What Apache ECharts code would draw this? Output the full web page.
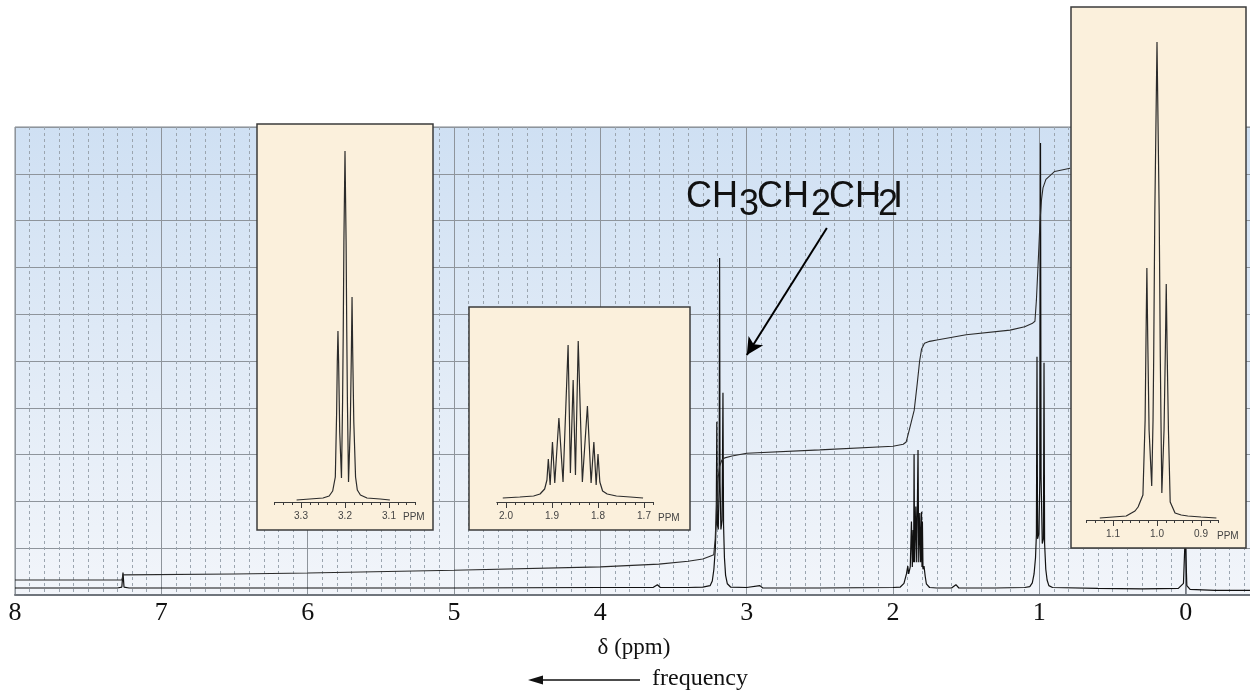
<!DOCTYPE html>
<html><head><meta charset="utf-8">
<script src="https://cdn.jsdelivr.net/npm/echarts@6/dist/echarts.min.js"></script>
<style>html,body{margin:0;padding:0;background:#fff}#c{width:1250px;height:696px}</style>
</head><body><div id="c"></div>
<script>
// ---------- DATA ----------
// main spectrum: [ppm, height in grid divisions]
const spectrumMain = [
[8.00,0.15],[7.30,0.15],[7.27,0.17],[7.262,0.48],[7.255,0.17],[7.22,0.15],
[6.0,0.15],[5.0,0.15],[4.0,0.16],[3.64,0.16],[3.61,0.22],[3.59,0.16],
[3.40,0.16],[3.30,0.17],[3.25,0.2],[3.235,0.3],[3.224,0.55],[3.214,1.0],[3.208,1.6],[3.204,3.70],[3.200,1.5],[3.194,1.4],[3.188,2.4],[3.185,7.2],[3.182,2.4],[3.176,1.4],[3.168,1.6],[3.162,4.32],[3.158,1.5],[3.152,0.8],[3.144,0.42],[3.132,0.24],[3.11,0.17],[3.0,0.16],[2.91,0.2],[2.89,0.15],
[2.5,0.15],[2.0,0.16],[1.95,0.17],[1.925,0.25],[1.908,0.45],[1.899,0.62],[1.893,0.45],[1.882,0.6],[1.874,1.57],[1.868,0.6],[1.863,1.39],[1.859,0.7],[1.856,3.01],[1.852,0.7],[1.844,1.89],[1.838,0.7],[1.829,3.10],[1.824,0.7],[1.817,1.75],[1.811,0.7],[1.805,1.78],[1.802,0.6],[1.799,1.57],[1.795,0.55],[1.788,0.62],[1.78,0.4],[1.772,0.24],[1.75,0.16],[1.70,0.15],
[1.60,0.15],[1.57,0.22],[1.55,0.15],[1.30,0.15],[1.10,0.16],[1.065,0.18],[1.048,0.26],[1.036,0.45],[1.026,0.8],[1.020,1.3],[1.016,5.09],[1.012,1.2],[1.004,1.3],[0.996,2.5],[0.992,9.66],[0.988,2.5],[0.980,1.1],[0.972,1.2],[0.968,4.96],[0.964,1.1],[0.956,0.55],[0.947,0.32],[0.935,0.2],[0.91,0.16],[0.6,0.14],[0.3,0.13],[0.05,0.14],[0.015,0.25],[0.003,1.3],[-0.008,0.2],[-0.03,0.12],[-0.2,0.1],[-0.44,0.1]
];
// integration curve: [ppm, height in grid divisions]
const integral = [
[8.0,0.32],[7.27,0.32],[7.262,0.43],[6.5,0.45],[6.0,0.47],[5.0,0.53],[4.0,0.60],[3.6,0.66],[3.4,0.72],[3.3,0.77],[3.25,0.83],
[3.225,0.86],[3.215,1.2],[3.205,2.0],[3.195,2.5],[3.185,2.75],[3.17,2.88],[3.15,2.93],[3.1,2.97],[3.0,3.03],[2.5,3.1],[2.0,3.18],
[1.93,3.22],[1.91,3.27],[1.895,3.45],[1.875,3.7],[1.855,3.95],[1.835,4.5],[1.818,5.0],[1.805,5.25],[1.785,5.38],[1.75,5.42],[1.7,5.45],[1.5,5.56],[1.2,5.66],[1.1,5.73],
[1.05,5.8],[1.03,5.85],[1.02,6.3],[1.005,7.3],[0.995,8.0],[0.985,8.45],[0.975,8.7],[0.955,8.88],[0.895,9.05],[0.79,9.12]
];
// inset 1: CH2I triplet near 3.2 ppm [ppm, height]
const inset1 = [
[3.31,2],[3.28,3],[3.25,4],[3.236,6],[3.228,11],[3.222,25],[3.219,90],[3.2175,140],[3.216,171],[3.2145,140],[3.212,70],[3.208,24],
[3.2055,100],[3.204,170],[3.2025,260],[3.2,351],[3.1975,260],[3.196,170],[3.1945,100],[3.192,20],
[3.188,75],[3.1855,150],[3.184,205],[3.1825,150],[3.18,80],[3.176,25],[3.172,12],[3.165,7],[3.15,4],[3.12,3],[3.098,2]
];
// inset 2: CH2 multiplet near 1.85 ppm
const inset2 = [
[2.007,4],[1.97,5],[1.94,6],[1.926,8],[1.916,13],[1.911,22],[1.908,43],[1.904,17],[1.899,60],[1.894,19],[1.885,84],[1.876,20],
[1.865,157],[1.86,29],[1.854,122],[1.849,27],[1.843,161],[1.834,20],[1.823,96],[1.815,19],[1.809,60],[1.804,17],[1.800,48],
[1.796,20],[1.79,11],[1.78,8],[1.76,6],[1.73,5],[1.702,4]
];
// inset 3: CH3 triplet near 1.0 ppm
const inset3 = [
[1.13,2],[1.10,3],[1.07,4],[1.05,9],[1.043,13],[1.032,25],[1.027,100],[1.025,180],[1.023,252],[1.021,180],[1.018,90],[1.012,34],
[1.009,100],[1.0075,163],[1.005,306],[1.0,478],[0.995,306],[0.9925,163],[0.991,100],[0.989,27],
[0.984,90],[0.981,170],[0.979,236],[0.977,170],[0.974,90],[0.970,18],[0.959,7],[0.945,5],[0.93,4],[0.9,3],[0.865,2]
];
const mainTickLabels = ['8','7','6','5','4','3','2','1','0'];
const inset1Labels = ['3.3','3.2','3.1'];
const inset2Labels = ['2.0','1.9','1.8','1.7'];
const inset3Labels = ['1.1','1.0','0.9'];
const formula = [['CH',0],['3',1],['CH',0],['2',1],['CH',0],['2',1],['I',0]];

// ---------- CHART ----------
const chart = echarts.init(document.getElementById('c'));
const gridLine = '#8e949b';
function insetAxes(gi, min, max, labels){
  const vals = labels.map(Number);
  return [{
    gridIndex: gi, type:'value', position:'bottom', min:min, max:max, interval:0.02, inverse:true, z:30,
    axisLine:{show:true,onZero:false,lineStyle:{color:'#3a3a3a',width:1}},
    axisTick:{show:true,length:3,lineStyle:{color:'#3a3a3a',width:1}},
    axisLabel:{show:true,margin:9,fontSize:10,color:'#444',fontFamily:'Liberation Sans',
      formatter:function(v){for(let i=0;i<vals.length;i++){if(Math.abs(v-vals[i])<1e-6)return labels[i];}return '';}},
    splitLine:{show:false}
  },{
    gridIndex: gi, type:'value', position:'bottom', min:min, max:max, interval:0.02, inverse:true, z:30,
    axisLine:{show:false,onZero:false},
    axisTick:{show:true,length:6,customValues:vals,lineStyle:{color:'#3a3a3a',width:1}},
    axisLabel:{show:false},
    splitLine:{show:false}
  }];
}
const inAx1 = insetAxes(1, 3.04, 3.36, inset1Labels);
const inAx2 = insetAxes(2, 1.68, 2.02, inset2Labels);
const inAx3 = insetAxes(3, 0.86, 1.16, inset3Labels);

const boxStyle = {fill:'#fbf0dc', stroke:'#3b3b3b', lineWidth:1.5};
const graphics = [
  {type:'rect', z:10, shape:{x:257,y:124,width:176,height:406}, style:boxStyle},
  {type:'rect', z:10, shape:{x:469,y:307,width:221,height:223}, style:boxStyle},
  {type:'rect', z:10, shape:{x:1071,y:7,width:175,height:541}, style:boxStyle},
  {type:'text', z:31, style:{text:'PPM', x:403, y:517, verticalAlign:'middle', fontSize:10, fontFamily:'Liberation Sans', fill:'#444'}},
  {type:'text', z:31, style:{text:'PPM', x:658, y:518, verticalAlign:'middle', fontSize:10, fontFamily:'Liberation Sans', fill:'#444'}},
  {type:'text', z:31, style:{text:'PPM', x:1217, y:536, verticalAlign:'middle', fontSize:10, fontFamily:'Liberation Sans', fill:'#444'}},
  {type:'text', z:31, style:{text:'δ (ppm)', x:634, y:648, align:'center', verticalAlign:'middle', fontSize:23, fontFamily:'Liberation Serif', fill:'#111'}},
  {type:'line', z:31, shape:{x1:640,y1:680,x2:538,y2:680}, style:{stroke:'#111', lineWidth:1.3}},
  {type:'polygon', z:31, shape:{points:[[528,680],[543,675.5],[543,684.5]]}, style:{fill:'#111'}},
  {type:'text', z:31, style:{text:'frequency', x:652, y:679, verticalAlign:'middle', fontSize:24, fontFamily:'Liberation Serif', fill:'#111'}}
];
const fx = [686, 739, 757, 811, 829, 878, 893];
formula.forEach(function(p, i){
  graphics.push({type:'text', z:31, style:{text:p[0], x:fx[i], y:p[1]?205.5:197.5, verticalAlign:'middle', fontSize:36, fontFamily:'Liberation Sans', fill:'#111'}});
});

const option = {
  animation:false,
  backgroundColor:'#ffffff',
  grid:[
    {left:15, top:127, width:1317, height:468, show:true, z:0, outerBoundsMode:'none', containLabel:false,
     backgroundColor:{type:'linear',x:0,y:0,x2:0,y2:1,colorStops:[{offset:0,color:'#cfe0f3'},{offset:1,color:'#f2f5fa'}]},
     borderColor:'#7d848c', borderWidth:1},
    {left:274.6, top:130, width:140.8, height:372, outerBoundsMode:'none'},
    {left:496.8, top:313, width:156.4, height:189, outerBoundsMode:'none'},
    {left:1086.6, top:15, width:132, height:505, outerBoundsMode:'none'}
  ],
  xAxis:[
    {gridIndex:0, type:'value', position:'bottom', min:-1, max:8, interval:1, inverse:true,
     axisLine:{show:true,onZero:false,lineStyle:{color:'#6f757c',width:2}},
     axisTick:{show:false},
     axisLabel:{show:true, margin:5, fontSize:26, color:'#111', fontFamily:'Liberation Serif',
       formatter:function(v){const i=8-v; return (i>=0&&i<mainTickLabels.length)?mainTickLabels[i]:'';}},
     splitLine:{show:true,lineStyle:{color:gridLine,width:1}},
     minorTick:{show:false,splitNumber:10},
     minorSplitLine:{show:true,lineStyle:{color:'#9ba5af',width:1,type:[3,3]}}
    },
    inAx1[0], inAx1[1], inAx2[0], inAx2[1], inAx3[0], inAx3[1]
  ],
  yAxis:[
    {gridIndex:0, type:'value', min:0, max:10, interval:1,
     axisLine:{show:true,lineStyle:{color:'#6f757c',width:1.5}},
     axisTick:{show:false}, axisLabel:{show:false},
     splitLine:{show:true,lineStyle:{color:gridLine,width:1}}},
    {gridIndex:1, type:'value', min:0, max:372, show:false},
    {gridIndex:2, type:'value', min:0, max:189, show:false},
    {gridIndex:3, type:'value', min:0, max:505, show:false}
  ],
  series:[
    {type:'line', name:'spectrum', xAxisIndex:0, yAxisIndex:0, data:spectrumMain, showSymbol:false, symbol:'none', z:3,
     lineStyle:{color:'#111',width:1.2}},
    {type:'line', name:'integral', xAxisIndex:0, yAxisIndex:0, data:integral, showSymbol:false, symbol:'none', z:3,
     lineStyle:{color:'#2a2a2a',width:1.1},
     markLine:{silent:true, symbol:['none','arrow'], symbolSize:[13,17], label:{show:false},
       lineStyle:{color:'#000',width:2,type:'solid'},
       data:[[{coord:[2.452,7.84]},{coord:[2.999,5.13]}]]}},
    {type:'line', xAxisIndex:1, yAxisIndex:1, data:inset1, showSymbol:false, symbol:'none', z:30, lineStyle:{color:'#2b2b2b',width:1.2}},
    {type:'line', xAxisIndex:3, yAxisIndex:2, data:inset2, showSymbol:false, symbol:'none', z:30, lineStyle:{color:'#2b2b2b',width:1.2}},
    {type:'line', xAxisIndex:5, yAxisIndex:3, data:inset3, showSymbol:false, symbol:'none', z:30, lineStyle:{color:'#2b2b2b',width:1.2}}
  ],
  graphic: graphics
};
chart.setOption(option);
</script>
</body></html>
